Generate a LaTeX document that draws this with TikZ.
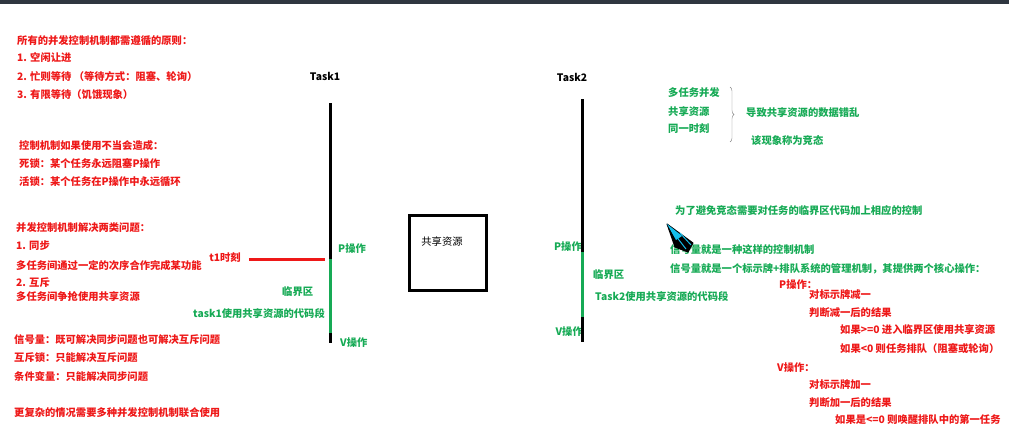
\documentclass[tikz,border=0pt]{standalone}
\usepackage{fontspec}
\setmainfont{Noto Sans CJK SC}
\usepackage{xcolor}
\usetikzlibrary{positioning,calc,decorations.pathreplacing}

\definecolor{myred}{RGB}{238,24,24}
\definecolor{mygreen}{RGB}{22,170,85}
\definecolor{bargray}{RGB}{47,54,64}
\definecolor{cursorblue}{RGB}{20,190,235}

\tikzset{
  redtxt/.style={anchor=west, inner sep=0pt, text=myred, font=\fontsize{10.3}{12}\selectfont\bfseries},
  greentxt/.style={anchor=west, inner sep=0pt, text=mygreen, font=\fontsize{10.3}{12}\selectfont\bfseries},
  tasktitle/.style={inner sep=0pt, font=\fontsize{10.3}{12}\selectfont\bfseries},
  taskline/.style={line width=3pt, black},
  critline/.style={line width=3pt, mygreen},
}

\begin{document}
\begin{tikzpicture}[x=1pt,y=-1pt]
    \useasboundingbox (0,0) rectangle (1009,445);
    \fill[bargray] (0,0) rectangle (1009,4);

    % principles
    \node[redtxt] (rule)  at (17,41)  {所有的并发控制机制都需遵循的原则：};
    \node[redtxt] (rule1) at (17,58)  {1. 空闲让进};
    \node[redtxt] (rule2) at (17,77)  {2. 忙则等待 （等待方式：阻塞、轮询）};
    \node[redtxt] (rule3) at (17,95)  {3. 有限等待（饥饿现象）};

    % misuse
    \node[redtxt] (bad)   at (19,146) {控制机制如果使用不当会造成：};
    \node[redtxt] (dead)  at (19,164) {死锁：某个任务永远阻塞P操作};
    \node[redtxt] (live)  at (19,182) {活锁：某个任务在P操作中永远循环};

    % two problems
    \node[redtxt] (prob)  at (16,228) {并发控制机制解决两类问题：};
    \node[redtxt] (sync)  at (16,246) {1. 同步};
    \node[redtxt] (synd)  at (16,266) {多任务间通过一定的次序合作完成某功能};
    \node[redtxt] (mutex) at (16,283) {2. 互斥};
    \node[redtxt] (mutd)  at (16,297) {多任务间争抢使用共享资源};

    \node[redtxt] (sem)   at (14,340) {信号量：既可解决同步问题也可解决互斥问题};
    \node[redtxt] (lock)  at (14,358) {互斥锁：只能解决互斥问题};
    \node[redtxt] (cond)  at (14,377) {条件变量：只能解决同步问题};
    \node[redtxt] (mix)   at (14,413) {更复杂的情况需要多种并发控制机制联合使用};

    % Task1
    \node[tasktitle] (task1) at (325,76) {Task1};
    \coordinate (t1top) at (330,103);
    \coordinate (t1p)   at (330,259);
    \coordinate (t1v)   at (330,333);
    \coordinate (t1bot) at (330,343);
    \node[greentxt] (t1pop)  at (338,249) {P操作};
    \node[greentxt] (t1vop)  at (340,343) {V操作};
    \node[greentxt] (t1crit) at (282,292) {临界区};
    \node[greentxt, anchor=east] (t1code) at (325,314) {task1使用共享资源的代码段};
    \node[redtxt, anchor=center] (t1) at (225,258) {t1时刻};
    \draw[taskline] (t1top) -- (t1p);
    \draw[critline] (t1p) -- (t1v);
    \draw[taskline] (t1v) -- (t1bot);
    \draw[myred, line width=3pt] ([xshift=8pt]t1.east |- t1p) -- ([xshift=-5pt]t1p);

    % shared resource
    \node[draw, line width=3pt, minimum width=77pt, minimum height=75pt, inner sep=0pt] (res) at (448,253) {};
    \node[inner sep=0pt, font=\fontsize{10.3}{12}\selectfont] (reslabel) at (442,242) {共享资源};

    % Task2
    \node[tasktitle] (task2) at (572,77) {Task2};
    \coordinate (t2top) at (582,99);
    \coordinate (t2p)   at (582,252);
    \coordinate (t2v)   at (582,317);
    \coordinate (t2bot) at (582,342);
    \node[greentxt, anchor=east] (t2pop) at (582,247) {P操作};
    \node[greentxt, anchor=east] (t2vop) at (583,332) {V操作};
    \node[greentxt] (t2crit) at (593,275) {临界区};
    \node[greentxt] (t2code) at (595,297) {Task2使用共享资源的代码段};
    \draw[taskline] (t2top) -- (t2p);
    \draw[critline] (t2p) -- (t2v);
    \draw[taskline] (t2v) -- (t2bot);

    % race condition
    \node[greentxt] (multi)  at (668,93)  {多任务并发};
    \node[greentxt] (share)  at (668,112) {共享资源};
    \node[greentxt] (same)   at (668,129) {同一时刻};
    \draw[gray, thin, decorate, decoration={brace, amplitude=4pt}] (730,87) -- (730,142);
    \node[greentxt] (chaos)  at (746,113) {导致共享资源的数据错乱};
    \node[greentxt] (race)   at (751,141) {该现象称为竞态};

    % semaphore
    \node[greentxt] (avoid)  at (675,211) {为了避免竞态需要对任务的临界区代码加上相应的控制};
    \node[greentxt] (semis)  at (670,250) {信号量就是一种这样的控制机制};
    \node[greentxt] (semdef) at (670,269) {信号量就是一个标示牌+排队系统的管理机制，其提供两个核心操作：};
    \filldraw[fill=black, draw=black, line width=1pt, line join=round]
        (667,224) -- (693,243) -- (688,252) -- (675,247) -- cycle;
    \fill[cursorblue] (667,224) -- (682,236) -- (676,240) -- cycle;
    \draw[cursorblue, line width=1pt] (672,231) -- (686,249);
    \draw[cursorblue, line width=1pt] (680,233) -- (691,245);

    % P / V
    \node[redtxt] (pop)   at (779,285) {P操作：};
    \node[redtxt] (pdec)  at (809,295) {对标示牌减一};
    \node[redtxt] (pchk)  at (809,313) {判断减一后的结果};
    \node[redtxt] (pge)   at (840,330) {如果>=0 进入临界区使用共享资源};
    \node[redtxt] (plt)   at (840,349) {如果<0 则任务排队（阻塞或轮询）};
    \node[redtxt] (vop)   at (777,368) {V操作：};
    \node[redtxt] (vinc)  at (809,385) {对标示牌加一};
    \node[redtxt] (vchk)  at (809,403) {判断加一后的结果};
    \node[redtxt] (vle)   at (835,420) {如果是<=0 则唤醒排队中的第一任务};
\end{tikzpicture}
\end{document}
